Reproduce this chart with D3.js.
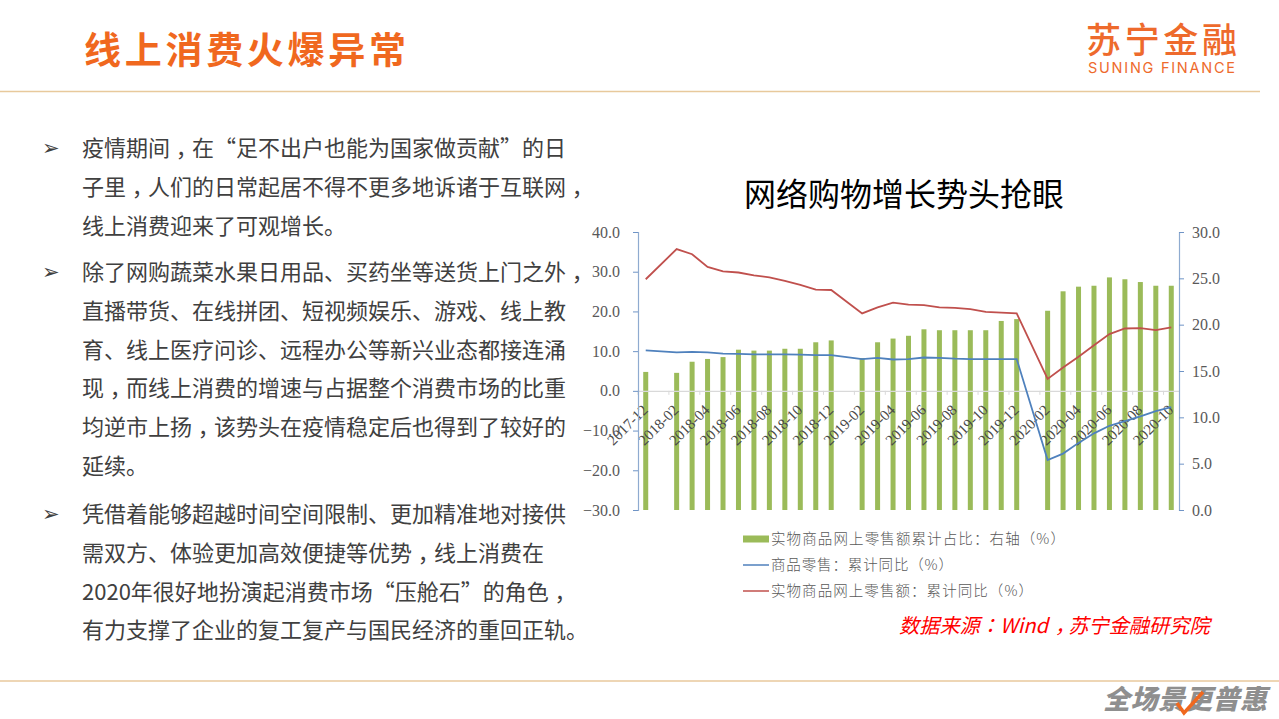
<!DOCTYPE html>
<html>
<head>
<meta charset="utf-8">
<script src="https://cdn.jsdelivr.net/npm/d3@7"></script>
<style>
  html, body { margin: 0; padding: 0; background: #fff; overflow: hidden; }
  text { font-family: "Noto Sans CJK SC", sans-serif; }
  .axis-num text { font-family: "Liberation Serif", serif; fill: #595959; }
</style>
</head>
<body>
<div id="slide"></div>
<script>
var months = ["2017-12","2018-01","2018-02","2018-03","2018-04","2018-05","2018-06","2018-07","2018-08","2018-09","2018-10","2018-11","2018-12",
  "2019-01","2019-02","2019-03","2019-04","2019-05","2019-06","2019-07","2019-08","2019-09","2019-10","2019-11","2019-12",
  "2020-01","2020-02","2020-03","2020-04","2020-05","2020-06","2020-07","2020-08","2020-09","2020-10"];

// right axis, bars
var shareValues = [14.9,null,14.8,16.0,16.3,16.5,17.3,17.2,17.2,17.4,17.4,18.1,18.3,
  null,16.4,18.1,18.5,18.8,19.5,19.4,19.4,19.4,19.4,20.4,20.6,
  null,21.5,23.6,24.1,24.2,25.1,24.9,24.6,24.2,24.2];

// left axis, lines
var retailValues = [10.2,null,9.7,9.8,9.7,9.4,9.3,9.2,9.2,9.2,9.1,9.0,9.0,
  null,8.0,8.3,7.9,8.0,8.4,8.3,8.1,8.0,8.0,8.0,8.0,
  null,-17.4,-15.8,-13.1,-10.7,-8.8,-7.6,-6.4,-5.1,-4.1];
var onlineValues = [28.1,null,35.7,34.4,31.2,30.1,29.8,29.1,28.6,27.7,26.7,25.5,25.4,
  null,19.5,21.0,22.2,21.7,21.6,21.0,20.9,20.6,19.9,19.7,19.5,
  null,3.0,5.9,8.6,11.5,14.3,15.7,15.8,15.3,16.0];

var leftTicks = [-30,-20,-10,0,10,20,30,40];
var rightTicks = [0,5,10,15,20,25,30];

var legendLabels = ["实物商品网上零售额累计占比：右轴（%）","商品零售：累计同比（%）","实物商品网上零售额：累计同比（%）"];

var paragraphs = [
  ["疫情期间，在“足不出户也能为国家做贡献”的日","子里，人们的日常起居不得不更多地诉诸于互联网，","线上消费迎来了可观增长。"],
  ["除了网购蔬菜水果日用品、买药坐等送货上门之外，","直播带货、在线拼团、短视频娱乐、游戏、线上教","育、线上医疗问诊、远程办公等新兴业态都接连涌","现，而线上消费的增速与占据整个消费市场的比重","均逆市上扬，该势头在疫情稳定后也得到了较好的","延续。"],
  ["凭借着能够超越时间空间限制、更加精准地对接供","需双方、体验更加高效便捷等优势，线上消费在","2020年很好地扮演起消费市场“压舱石”的角色，","有力支撑了企业的复工复产与国民经济的重回正轨。"]
];
var paragraphTops = [148, 272, 514];

var orange = "#f0681e";
var ruleColor = "#e8c99c";

var svg = d3.select("#slide").append("svg")
  .attr("width", 1279)
  .attr("height", 719)
  .style("display", "block");

// the source slide centres its commas in the em box: the TC cut does that too,
// it only sits them mid height so they get dropped to the baseline
function addCentredCommas(textNode, line, drop) {
  var parts = line.split(/(，|：)/);
  var pending = 0;
  parts.forEach(function(part) {
    if (part === "") return;
    var span = textNode.append("tspan").text(part);
    if (part === "，") {
      span.style("font-family", "'Noto Sans CJK TC', sans-serif").attr("dy", drop);
      pending = -drop;
    } else if (part === "：") {
      span.style("font-family", "'Noto Sans CJK TC', sans-serif");
    } else {
      if (pending) span.attr("dy", pending);
      pending = 0;
    }
  });
}

// header and footer
svg.append("text").attr("x", 84).attr("y", 64)
  .attr("font-size", 37).attr("font-weight", 700).attr("fill", orange)
  .attr("textLength", 322).text("线上消费火爆异常");

svg.append("text").attr("x", 1086).attr("y", 53)
  .attr("font-size", 35).attr("font-weight", 500).attr("fill", "#ee6a2c")
  .attr("textLength", 151).text("苏宁金融");
svg.append("text").attr("x", 1088).attr("y", 73)
  .attr("font-size", 14.5).attr("fill", "#ee6a2c")
  .style("font-family", "Inter, sans-serif")
  .attr("textLength", 147).text("SUNING FINANCE");

svg.append("line").attr("x1", 0).attr("x2", 1260).attr("y1", 91.5).attr("y2", 91.5)
  .attr("stroke", ruleColor).attr("stroke-width", 1.4);
svg.append("line").attr("x1", 0).attr("x2", 1279).attr("y1", 681).attr("y2", 681)
  .attr("stroke", ruleColor).attr("stroke-width", 1.6);

svg.append("text").attr("x", 1103).attr("y", 709)
  .attr("font-size", 27).attr("font-weight", 900).attr("font-style", "italic").attr("fill", "#8f8f8f")
  .attr("textLength", 164).text("全场景更普惠");
svg.append("path").attr("d", d3.line()([[1177, 703], [1184, 713], [1203, 692]]))
  .attr("fill", "none").attr("stroke", orange).attr("stroke-width", 3.5);

// body text
paragraphs.forEach(function(lines, i) {
  svg.append("text").attr("x", 42).attr("y", paragraphTops[i] + 7)
    .attr("font-size", 21).attr("fill", "#404040")
    .style("font-family", "'DejaVu Sans', sans-serif").text("➢");

  lines.forEach(function(line, j) {
    var t = svg.append("text")
      .attr("x", 82)
      .attr("y", paragraphTops[i] + j * 38.8 + 8)
      .attr("font-size", 22)
      .attr("fill", "#404040");
    addCentredCommas(t, line, 7);
  });
});

// chart
var chartLeft = 638, chartRight = 1179, chartTop = 232, chartBottom = 510;

svg.append("text").attr("x", 904).attr("y", 206)
  .attr("text-anchor", "middle").attr("font-size", 32).attr("fill", "#000")
  .text("网络购物增长势头抢眼");

var xScale = d3.scaleBand().domain(months).range([chartLeft, chartRight]);
var yLeft = d3.scaleLinear().domain([-30, 40]).range([chartBottom, chartTop]);
var yRight = d3.scaleLinear().domain([0, 30]).range([chartBottom, chartTop]);

svg.append("g").selectAll("rect")
  .data(months.map((m, i) => ({month: m, value: shareValues[i]})).filter(d => d.value !== null))
  .enter()
  .append("rect")
  .attr("x", d => xScale(d.month) + xScale.bandwidth() / 2 - 2.5)
  .attr("y", d => yRight(d.value))
  .attr("width", 5)
  .attr("height", d => chartBottom - yRight(d.value))
  .attr("fill", "#9bbb59");

// x axis sits on the zero line, ticks fall on the band edges
var xAxis = svg.append("g")
  .attr("class", "axis-num")
  .attr("transform", `translate(0, ${yLeft(0)})`)
  .call(d3.axisBottom(xScale).tickValues(months.filter((m, i) => i % 2 === 0)).tickSize(4).tickSizeOuter(0));
xAxis.select(".domain").attr("stroke", "#d9d9d9").attr("stroke-width", 1.2);
xAxis.selectAll(".tick line").attr("stroke", "#d9d9d9").attr("x1", -xScale.step() / 2).attr("x2", -xScale.step() / 2);
xAxis.selectAll(".tick text")
  .attr("font-size", 15)
  .style("fill", "#4a4a4a")
  .attr("text-anchor", "end")
  .attr("x", 0).attr("y", 0).attr("dy", 0)
  .attr("transform", "translate(3, 20) rotate(-45)");

var axisLeft = svg.append("g")
  .attr("class", "axis-num")
  .attr("transform", `translate(${chartLeft}, 0)`)
  .call(d3.axisLeft(yLeft).tickValues(leftTicks).tickFormat(d3.format(".1f")).tickSize(5).tickPadding(13));
var axisRight = svg.append("g")
  .attr("class", "axis-num")
  .attr("transform", `translate(${chartRight}, 0)`)
  .call(d3.axisRight(yRight).tickValues(rightTicks).tickFormat(d3.format(".1f")).tickSize(5).tickPadding(8));
[axisLeft, axisRight].forEach(function(a) {
  a.select(".domain").attr("stroke", "#8fabd0").attr("stroke-width", 1.2);
  a.selectAll(".tick line").attr("stroke", "#6f94c6");
  a.selectAll(".tick text").attr("font-size", 16);
});

// gaps in the months are bridged, as in the source chart
function drawLine(values, color) {
  var points = months.map((m, i) => ({month: m, value: values[i]})).filter(d => d.value !== null);
  var line = d3.line()
    .x(d => xScale(d.month) + xScale.bandwidth() / 2)
    .y(d => yLeft(d.value));
  svg.append("path").datum(points)
    .attr("d", line)
    .attr("fill", "none")
    .attr("stroke", color)
    .attr("stroke-width", 1.8);
}
drawLine(retailValues, "#4f81bd");
drawLine(onlineValues, "#c0504d");

// legend
var legendY = [539, 565, 591];
svg.append("rect").attr("x", 743).attr("y", legendY[0] - 3.5).attr("width", 26).attr("height", 7).attr("fill", "#9bbb59");
svg.append("line").attr("x1", 743).attr("x2", 769).attr("y1", legendY[1]).attr("y2", legendY[1]).attr("stroke", "#4f81bd").attr("stroke-width", 1.5);
svg.append("line").attr("x1", 743).attr("x2", 769).attr("y1", legendY[2]).attr("y2", legendY[2]).attr("stroke", "#c0504d").attr("stroke-width", 1.5);
var legendWidths = [294, 182, 262];
legendLabels.forEach(function(label, i) {
  svg.append("text").attr("x", 771).attr("y", legendY[i] + 5)
    .attr("font-size", 14.5).attr("font-weight", 300).attr("fill", "#595959")
    .attr("textLength", legendWidths[i]).text(label);
});

var sourceText = svg.append("text").attr("x", 899).attr("y", 633)
  .attr("font-size", 20.2).attr("font-style", "italic").attr("fill", "#ff0000");
addCentredCommas(sourceText, "数据来源：Wind，苏宁金融研究院", 6);
</script>
</body>
</html>
